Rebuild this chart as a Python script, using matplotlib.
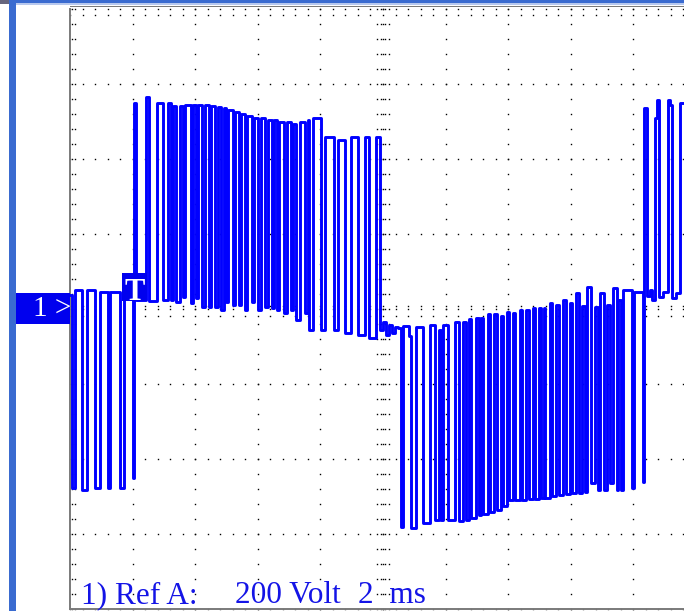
import numpy as np
import matplotlib
matplotlib.use("Agg")
import matplotlib.pyplot as plt
from matplotlib.patches import Rectangle

W, H = 684, 611

# switching edges of the stored trace: time (ms) where each level starts, and level (V)
seg_a_t = [0.00, 0.05, 0.16, 0.38, 0.53, 0.80, 0.96, 1.21, 1.29, 1.61, 1.71, 2.01, 2.05]
seg_a_v = [37, -477, 51, -483, 51, -477, 45, -477, 45, -477, 43, -451, 549]

seg_b_t = [2.11, 2.43, 2.52, 2.78, 2.97, 3.13, 3.23, 3.29, 3.40, 3.53,
           3.61, 3.67, 3.85, 3.93, 4.01, 4.09, 4.22, 4.31, 4.44, 4.52,
           4.63, 4.73, 4.81, 4.92, 4.98, 5.05, 5.21, 5.27, 5.40, 5.46,
           5.59, 5.67, 5.81, 5.88, 6.02, 6.10, 6.23, 6.31, 6.44, 6.52,
           6.60, 6.68, 6.84, 6.93, 7.06, 7.14, 7.22, 7.35, 7.51, 7.59,
           7.65, 7.75, 8.02, 8.15, 8.42, 8.56, 8.79, 8.98, 9.20, 9.42,
           9.55, 9.78, 9.89, 10.00, 10.10, 10.19, 10.29, 10.38]
seg_b_v = [24, 565, 21, 549, 24, 549, 24, 541, 19, 541,
           32, 544, 16, 544, 29, 544, 5, 544, 5, 541,
           5, 539, -3, 536, 19, 531, 11, 525, 11, 520,
           -3, 515, 19, 509, -3, 509, 5, 504, 3, 504,
           -3, 499, -11, 499, -3, 493, -29, 499, -11, 504,
           -56, 509, -56, 459, -56, 451, -64, 459, -69, 459,
           -77, 459, -56, -35, -69, -43, -64, -48]

seg_c_t = [10.48, 10.56, 10.65, 10.83, 10.89, 11.05, 11.29, 11.50, 11.66, 11.79,
           11.85, 11.92, 12.08, 12.30, 12.43, 12.56, 12.65, 12.75, 12.81, 12.97,
           13.08, 13.13, 13.21, 13.35, 13.43, 13.55, 13.63, 13.77, 13.83, 13.96,
           14.04, 14.15, 14.23, 14.37, 14.45, 14.58, 14.65, 14.79, 14.87, 14.98,
           15.06, 15.13, 15.19, 15.33, 15.41, 15.54, 15.62, 15.75, 15.86, 15.96,
           16.04, 16.16, 16.25, 16.36, 16.44, 16.53, 16.64, 16.78, 16.87, 16.92,
           17.06, 17.17, 17.25, 17.35, 17.48, 17.52, 17.60, 17.67, 17.96, 18.02,
           18.31, 18.34]
seg_c_v = [-51, -581, -45, -72, -584, -48, -571, -43, -563, -56,
           -563, -43, -563, -35, -565, -35, -563, -27, -557, -24,
           -549, -24, -547, -13, -541, -13, -536, -19, -525, -8,
           -509, -11, -509, -3, -509, -3, -507, 3, -507, 3,
           -504, 3, -504, 16, -499, 11, -496, 24, -493, 16,
           -491, 43, -491, 8, -488, 59, -464, 5, -483, 43,
           -483, 11, -464, 56, -483, 24, -483, 51, -477, 45,
           -461, 536]

seg_d_t = [18.42, 18.53, 18.59, 18.69, 18.75, 18.83, 18.95, 19.11, 19.17, 19.23,
           19.36, 19.49]
seg_d_v = [35, 51, 24, 509, 557, 32, 45, 557, 544, 29,
           43, 549]

T_END = 19.8          # trace runs off the right edge
MS_DIV, V_DIV = 2, 200

t_all = seg_a_t + seg_b_t + seg_c_t + seg_d_t + [T_END]
v_all = seg_a_v + seg_b_v + seg_c_v + seg_d_v + [seg_d_v[-1]]

fig = plt.figure(figsize=(W / 100, H / 100), dpi=100)
fig.patch.set_facecolor("white")

def fx(x):
    return x / W

def fy(y):
    return 1 - y / H

# screen area: left edge at 70 px, 8 x 75 px divisions high, 62.6 px per division wide
ax = fig.add_axes([fx(70), fy(609), (W - 70) / W, 600 / H])
ax.set_xlim(0, (W - 70) / 62.6 * MS_DIV)
ax.set_ylim(-4 * V_DIV, 4 * V_DIV)
ax.set_xticks([]); ax.set_yticks([])
for s in ["top", "right"]:
    ax.spines[s].set_visible(False)
for s in ["left", "bottom"]:
    ax.spines[s].set_color("#7a7a7a")
    ax.spines[s].set_linewidth(1.4)

ms_px = MS_DIV / 62.6
v_px = V_DIV / 75.0
xmax = ax.get_xlim()[1]
minor_t = np.arange(0, xmax, MS_DIV / 5)
minor_v = np.arange(-4 * V_DIV, 4 * V_DIV + 1, V_DIV / 5)

dot = dict(marker="s", ms=1.0, mew=0, color="black", ls="none", clip_on=False, zorder=1)
for v in range(-4 * V_DIV, 4 * V_DIV + 1, V_DIV):
    ax.plot(minor_t, np.full_like(minor_t, v), **dot)
for t in np.arange(MS_DIV, xmax, MS_DIV):
    ax.plot(np.full_like(minor_v, t), minor_v, **dot)
# edge ticks
for off in [2, 5]:
    ax.plot(np.full_like(minor_v, off * ms_px), minor_v, **dot)
ax.plot(minor_t, np.full_like(minor_t, 4 * V_DIV - 6 * v_px), **dot)
# centre cross ticks
for off in [-7, 3]:
    ax.plot(minor_t, np.full_like(minor_t, off * v_px), **dot)
for off in [-6, -2, 2, 6]:
    ax.plot(np.full_like(minor_v, 5 * MS_DIV + off * ms_px), minor_v, **dot)

ax.plot(t_all, v_all, drawstyle="steps-post", color="#0000ff", lw=2.1, zorder=3)

# window frame
frame = "#3a6bd0"
fig.add_artist(Rectangle((fx(9), 0), 7 / W, 1, transform=fig.transFigure, color=frame, lw=0))
fig.add_artist(Rectangle((fx(9), fy(3.5)), 1, 3.5 / H, transform=fig.transFigure, color=frame, lw=0))
fig.add_artist(Rectangle((fx(16), fy(4.8)), 1, 1.3 / H, transform=fig.transFigure, color="#b7c8ee", lw=0))
fig.add_artist(Rectangle((0, fy(3.5)), 9 / W, 3.5 / H, transform=fig.transFigure, color="#66667e", lw=0))
fig.add_artist(Rectangle((fx(69.5), fy(7.3)), 1, 1.4 / H, transform=fig.transFigure, color="#7a7a7a", lw=0))

# channel marker and trigger marker
mark = "#0000ee"
serif = "Liberation Serif"
fig.add_artist(Rectangle((fx(16), fy(324)), 54 / W, 31 / H, transform=fig.transFigure, color=mark, lw=0))
fig.text(fx(71), fy(316.5), "1 >", color="white", fontsize=21, family=serif, ha="right", va="baseline")
fig.add_artist(Rectangle((fx(122), fy(301)), 25 / W, 28 / H, transform=fig.transFigure, color=mark, lw=0))
fig.text(fx(134.5), fy(300), "T", color="white", fontsize=22, family=serif,
         weight="bold", ha="center", va="baseline")

label = dict(color="#1414e6", fontsize=22.5, family=serif, va="baseline")
fig.text(fx(81), fy(603), "1) Ref A:", **label)
fig.text(fx(235), fy(603), "200 Volt", **label)
fig.text(fx(358), fy(603), "2  ms", **label)

fig.savefig("out.png", dpi=100)
